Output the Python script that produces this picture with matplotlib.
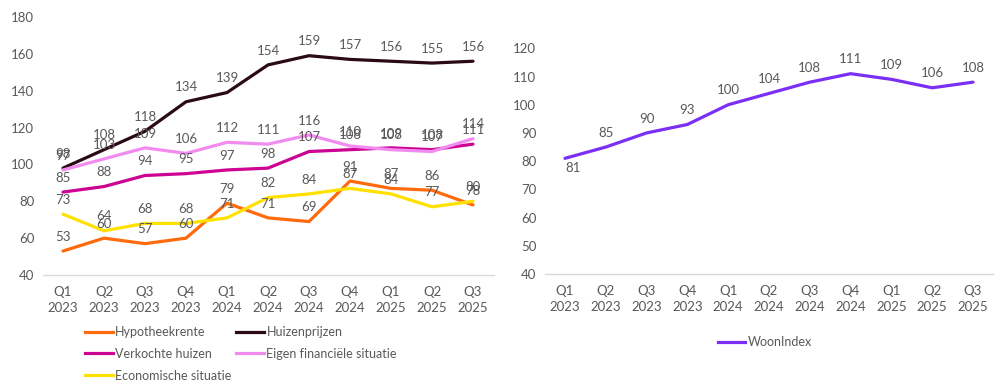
import matplotlib
matplotlib.use("Agg")
import matplotlib.pyplot as plt
from matplotlib.lines import Line2D

plt.rcParams['font.family'] = ['Lato', 'DejaVu Sans']

quarters = ["Q1\n2023", "Q2\n2023", "Q3\n2023", "Q4\n2023", "Q1\n2024", "Q2\n2024",
            "Q3\n2024", "Q4\n2024", "Q1\n2025", "Q2\n2025", "Q3\n2025"]

hypotheekrente = [53, 60, 57, 60, 79, 71, 69, 91, 87, 86, 78]
huizenprijzen = [98, 108, 118, 134, 139, 154, 159, 157, 156, 155, 156]
verkochte_huizen = [85, 88, 94, 95, 97, 98, 107, 108, 109, 108, 111]
eigen_financieel = [97, 103, 109, 106, 112, 111, 116, 110, 108, 107, 114]
economische = [73, 64, 68, 68, 71, 82, 84, 87, 84, 77, 80]
woonindex = [81, 85, 90, 93, 100, 104, 108, 111, 109, 106, 108]

left_series = [
    ("Hypotheekrente", hypotheekrente, "#FF6A0D"),
    ("Huizenprijzen", huizenprijzen, "#2A0A16"),
    ("Verkochte huizen", verkochte_huizen, "#CC0393"),
    ("Eigen financiële situatie", eigen_financieel, "#F28BF0"),
    ("Economische situatie", economische, "#FFE100"),
]

TXT = "#595959"
fig = plt.figure(figsize=(10, 3.88), dpi=100)

def style_axis(ax, ylim, yticks):
    ax.set_ylim(*ylim)
    ax.set_yticks(yticks)
    ax.set_xlim(-0.5, len(quarters) - 0.5)
    ax.set_xticks(range(len(quarters)))
    ax.set_xticklabels(quarters, color=TXT, fontsize=9.5, linespacing=1.35)
    ax.tick_params(axis='y', colors=TXT, labelsize=9.5, length=0, pad=6)
    ax.tick_params(axis='x', length=0, pad=8)
    for s in ["top", "right", "left"]:
        ax.spines[s].set_visible(False)
    ax.spines["bottom"].set_color("#D9D9D9")
    ax.spines["bottom"].set_linewidth(1)

ax1 = fig.add_axes([0.0425, 1 - 275 / 388, 0.451, (275 - 17) / 388])
x = list(range(len(quarters)))
for name, vals, col in left_series:
    ax1.plot(x, vals, color=col, lw=2.3, solid_capstyle='round', label=name)
    for xi, v in zip(x, vals):
        ax1.annotate(str(v), (xi, v), xytext=(0, 6), textcoords='offset points',
                     ha='center', va='bottom', color=TXT, fontsize=9.5)
style_axis(ax1, (40, 180), range(40, 181, 20))

handles = [Line2D([0], [0], color=c, lw=2.3) for _, _, c in left_series]
labels = [n for n, _, _ in left_series]
order = [0, 2, 4, 1, 3]
leg1 = fig.legend([handles[i] for i in order], [labels[i] for i in order], ncol=2,
                  loc='upper left', bbox_to_anchor=(0.085, 1 - 326 / 388), frameon=False,
                  fontsize=9, labelcolor=TXT, handlelength=2.2, handletextpad=0.2,
                  columnspacing=0.4, labelspacing=0.78, borderaxespad=0, borderpad=0)

ax2 = fig.add_axes([0.5446, 1 - 274 / 388, 0.4488, (274 - 48.3) / 388])
ax2.plot(x, woonindex, color="#7B2FF5", lw=2.3, solid_capstyle='round')
for xi, v in zip(x, woonindex):
    if xi == 0:
        ax2.annotate(str(v), (xi, v), xytext=(6, -3), textcoords='offset points',
                     ha='center', va='top', color=TXT, fontsize=9.5)
    else:
        ax2.annotate(str(v), (xi, v), xytext=(0, 6), textcoords='offset points',
                     ha='center', va='bottom', color=TXT, fontsize=9.5)
style_axis(ax2, (40, 120), range(40, 121, 10))
fig.legend([Line2D([0], [0], color="#7B2FF5", lw=2.3)], ["WoonIndex"],
           loc='center', bbox_to_anchor=(0.765, 1 - 342 / 388), frameon=False,
           fontsize=9, labelcolor=TXT, handlelength=2.2, handletextpad=0.2)

fig.savefig("out.png", dpi=100, facecolor="white")
